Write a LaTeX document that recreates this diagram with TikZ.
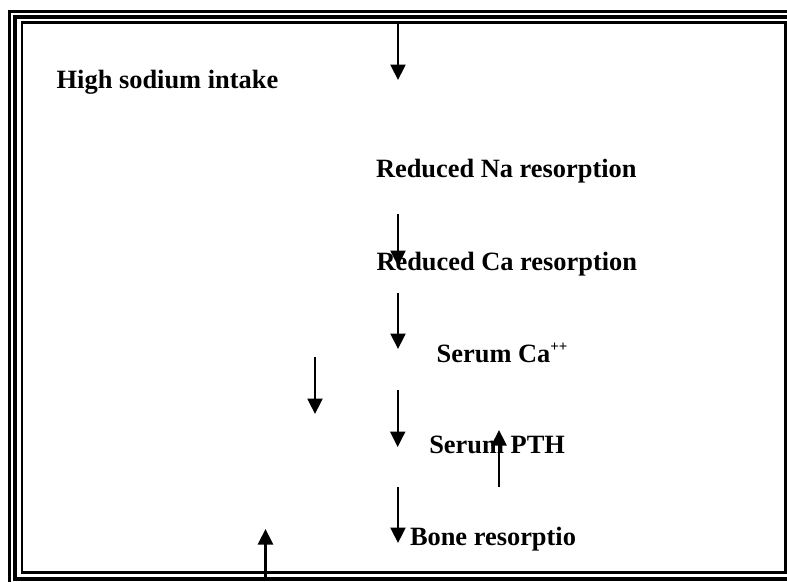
\documentclass[tikz,border=0pt]{standalone}
\usepackage{fontspec}
\setmainfont{Liberation Serif}
\usetikzlibrary{arrows.meta}
\tikzset{
  lbl/.style={anchor=base west, inner sep=0pt, outer sep=0pt, font=\fontsize{26.4}{30}\selectfont\bfseries},
  arr/.style={line width=2.3pt, -{Triangle[width=15pt,length=15.5pt]}},
  thinborder/.style={line width=2.6pt},
  thickborder/.style={line width=4.2pt}
}
\begin{document}
\begin{tikzpicture}[x=1pt,y=-1pt]
\useasboundingbox (0,0) rectangle (787,581);
\clip (0,0) rectangle (787,581);
\fill[white] (0,0) rectangle (787,581);
% triple border
\draw[thinborder] (9.7,11.7) rectangle (798,583.5);
\draw[thickborder] (15.3,16.8) rectangle (792.2,578.8);
\draw[line width=2.4pt] (22,22.5) rectangle (785.6,572.5);
% texts
\node[lbl] (high) at (56.7,88.5) {High sodium intake};
\node[lbl] (rna) at (376,177.3) {Reduced Na resorption};
\node[lbl] (rca) at (376.5,270.7) {Reduced Ca resorption};
\node[lbl] (sca) at (436.7,362.7) {Serum Ca\raisebox{11pt}{\fontsize{15}{15}\selectfont ++}};
\node[lbl] (pth) at (429.3,453.3) {Serum PTH};
\node[lbl] (bone) at (410,545) {Bone resorptio};
% arrow endpoints
\coordinate (a1s) at (398,23);   \coordinate (a1e) at (398,80);
\coordinate (a2s) at (398,214);  \coordinate (a2e) at (398,266);
\coordinate (a3s) at (398,293);  \coordinate (a3e) at (398,349);
\coordinate (a4s) at (315,357);  \coordinate (a4e) at (315,414);
\coordinate (a5s) at (397.7,390);\coordinate (a5e) at (397.7,447);
\coordinate (a6s) at (499,487);  \coordinate (a6e) at (499,430);
\coordinate (a7s) at (398,487);  \coordinate (a7e) at (398,543);
\coordinate (a8s) at (265.5,581);\coordinate (a8e) at (265.5,529);
\draw[arr] (a1s) -- (a1e);
\draw[arr] (a2s) -- (a2e);
\draw[arr] (a3s) -- (a3e);
\draw[arr] (a4s) -- (a4e);
\draw[arr] (a5s) -- (a5e);
\draw[arr] (a6s) -- (a6e);
\draw[arr] (a7s) -- (a7e);
\draw[arr] (a8s) -- (a8e);
\end{tikzpicture}
\end{document}
